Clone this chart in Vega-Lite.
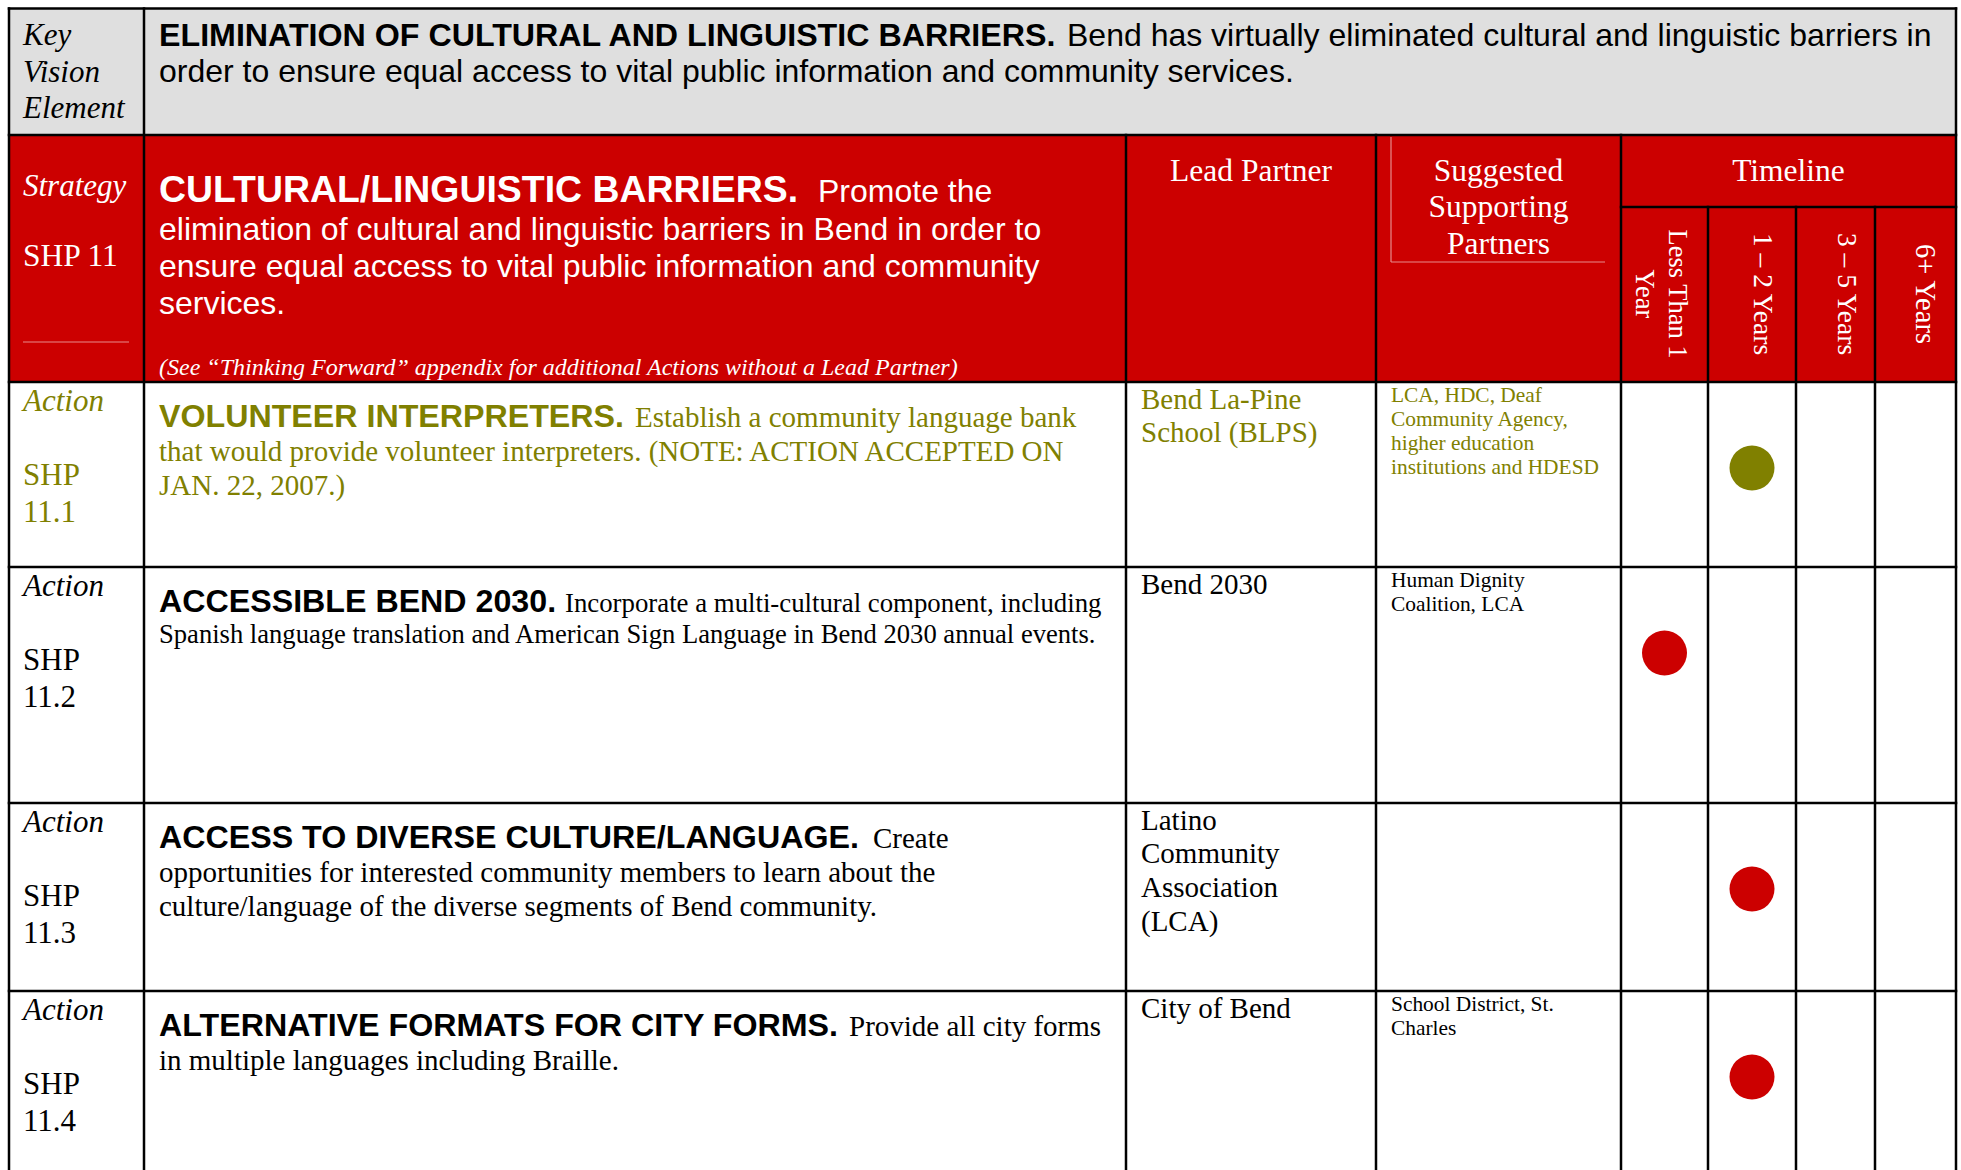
{
  "$schema": "https://vega.github.io/schema/vega-lite/v6.json",
  "width": 1961,
  "height": 1170,
  "autosize": "none",
  "padding": 0,
  "background": "white",
  "config": {"view": {"stroke": null}},
  "datasets": {
    "cells": [
      {"c": 0, "c2": 8, "r": 0, "r2": 1, "tone": "grey"},
      {"c": 0, "c2": 8, "r": 1, "r2": 3, "tone": "red"}
    ],
    "lines": [
      {"c": 0, "c2": 8, "r": 0, "r2": 0, "tone": "black"},
      {"c": 0, "c2": 8, "r": 1, "r2": 1, "tone": "black"},
      {"c": 4, "c2": 8, "r": 2, "r2": 2, "tone": "black"},
      {"c": 0, "c2": 8, "r": 3, "r2": 3, "tone": "black"},
      {"c": 0, "c2": 8, "r": 4, "r2": 4, "tone": "black"},
      {"c": 0, "c2": 8, "r": 5, "r2": 5, "tone": "black"},
      {"c": 0, "c2": 8, "r": 6, "r2": 6, "tone": "black"},
      {"c": 0, "c2": 0, "r": 0, "r2": 7, "tone": "black"},
      {"c": 1, "c2": 1, "r": 0, "r2": 7, "tone": "black"},
      {"c": 2, "c2": 2, "r": 1, "r2": 7, "tone": "black"},
      {"c": 3, "c2": 3, "r": 1, "r2": 7, "tone": "black"},
      {"c": 4, "c2": 4, "r": 1, "r2": 7, "tone": "black"},
      {"c": 5, "c2": 5, "r": 2, "r2": 7, "tone": "black"},
      {"c": 6, "c2": 6, "r": 2, "r2": 7, "tone": "black"},
      {"c": 7, "c2": 7, "r": 2, "r2": 7, "tone": "black"},
      {"c": 8, "c2": 8, "r": 0, "r2": 7, "tone": "black"}
    ],
    "thin": [
      {"k": "a", "c": 0, "c2": 1, "r": 1, "r2": 1, "tone": "pink"},
      {"k": "b", "c": 3, "c2": 3, "r": 1, "r2": 1, "tone": "pink"},
      {"k": "c", "c": 3, "c2": 4, "r": 1, "r2": 1, "tone": "pink"}
    ],
    "dots": [
      {"c": 5.5, "r": 3, "tone": "olive"},
      {"c": 4.5, "r": 4, "tone": "red"},
      {"c": 5.5, "r": 5, "tone": "red"},
      {"c": 5.5, "r": 6, "tone": "red"}
    ],
    "texts": [
      {"k": "kve", "c": 0, "r": 0, "t": "Key\nVision\nElement", "tone": "black"},
      {"k": "strat", "c": 0, "r": 1, "t": "Strategy", "tone": "white"},
      {"k": "shp11", "c": 0, "r": 1, "t": "SHP 11", "tone": "white"},
      {"k": "act", "c": 0, "r": 3, "t": "Action", "tone": "olive"},
      {"k": "act", "c": 0, "r": 4, "t": "Action", "tone": "black"},
      {"k": "act", "c": 0, "r": 5, "t": "Action", "tone": "black"},
      {"k": "act", "c": 0, "r": 6, "t": "Action", "tone": "black"},
      {"k": "shp", "c": 0, "r": 3, "t": "SHP\n11.1", "tone": "olive"},
      {"k": "shp", "c": 0, "r": 4, "t": "SHP\n11.2", "tone": "black"},
      {"k": "shp", "c": 0, "r": 5, "t": "SHP\n11.3", "tone": "black"},
      {"k": "shp", "c": 0, "r": 6, "t": "SHP\n11.4", "tone": "black"},
      {"k": "vb", "c": 1, "r": 0, "t": "ELIMINATION OF CULTURAL AND LINGUISTIC BARRIERS.", "tone": "black"},
      {"k": "vc", "c": 1, "r": 0, "t": "Bend has virtually eliminated cultural and linguistic barriers in", "tone": "black"},
      {"k": "v2", "c": 1, "r": 0, "t": "order to ensure equal access to vital public information and community services.", "tone": "black"},
      {"k": "sb", "c": 1, "r": 1, "t": "CULTURAL/LINGUISTIC BARRIERS.", "tone": "white"},
      {"k": "sc", "c": 1, "r": 1, "t": "Promote the", "tone": "white"},
      {"k": "s2", "c": 1, "r": 1, "t": "elimination of cultural and linguistic barriers in Bend in order to\nensure equal access to vital public information and community\nservices.", "tone": "white"},
      {"k": "sn", "c": 1, "r": 1, "t": "(See “Thinking Forward” appendix for additional Actions without a Lead Partner)", "tone": "white"},
      {"k": "hc", "c": 2.5, "r": 1, "t": "Lead Partner", "tone": "white"},
      {"k": "hc", "c": 3.5, "r": 1, "t": "Suggested\nSupporting\nPartners", "tone": "white"},
      {"k": "ht", "c": 6, "r": 1, "t": "Timeline", "tone": "white"},
      {"k": "rot1", "c": 5.5, "r": 2, "t": "1 – 2 Years", "tone": "white"},
      {"k": "rot1", "c": 6.5, "r": 2, "t": "3 – 5 Years", "tone": "white"},
      {"k": "rot6", "c": 7.5, "r": 2, "t": "6+ Years", "tone": "white"},
      {"k": "rot2", "c": 4.5, "r": 2, "t": "Less Than  1\nYear", "tone": "white"},
      {"k": "lead", "c": 2, "r": 3, "t": "Bend La-Pine\nSchool (BLPS)", "tone": "olive"},
      {"k": "lead", "c": 2, "r": 4, "t": "Bend 2030", "tone": "black"},
      {"k": "lead", "c": 2, "r": 5, "t": "Latino\nCommunity\nAssociation\n(LCA)", "tone": "black"},
      {"k": "lead", "c": 2, "r": 6, "t": "City of Bend", "tone": "black"},
      {"k": "sug", "c": 3, "r": 3, "t": "LCA, HDC, Deaf\nCommunity Agency,\nhigher education\ninstitutions and HDESD", "tone": "olive"},
      {"k": "sug", "c": 3, "r": 4, "t": "Human Dignity\nCoalition, LCA", "tone": "black"},
      {"k": "sug", "c": 3, "r": 6, "t": "School District, St.\nCharles", "tone": "black"},
      {"k": "tb", "c": 1, "r": 3, "t": "VOLUNTEER INTERPRETERS.", "tone": "olive"},
      {"k": "tb", "c": 1, "r": 4, "t": "ACCESSIBLE BEND 2030.", "tone": "black"},
      {"k": "tb", "c": 1, "r": 5, "t": "ACCESS TO DIVERSE CULTURE/LANGUAGE.", "tone": "black"},
      {"k": "tb", "c": 1, "r": 6, "t": "ALTERNATIVE FORMATS FOR CITY FORMS.", "tone": "black"},
      {"k": "tc3", "c": 1, "r": 3, "t": "Establish a community language bank", "tone": "olive"},
      {"k": "tc4", "c": 1, "r": 4, "t": "Incorporate a multi-cultural component, including", "tone": "black"},
      {"k": "tc5", "c": 1, "r": 5, "t": "Create", "tone": "black"},
      {"k": "tc6", "c": 1, "r": 6, "t": "Provide all city forms", "tone": "black"},
      {"k": "tl", "c": 1, "r": 3, "t": "that would provide volunteer interpreters. (NOTE: ACTION ACCEPTED ON\nJAN. 22, 2007.)", "tone": "olive"},
      {"k": "tl", "c": 1, "r": 5, "t": "opportunities for interested community members to learn about the\nculture/language of the diverse segments of Bend community.", "tone": "black"},
      {"k": "tl", "c": 1, "r": 6, "t": "in multiple languages including Braille.", "tone": "black"},
      {"k": "tl4", "c": 1, "r": 4, "t": "Spanish language translation and American Sign Language in Bend 2030 annual events.", "tone": "black"}
    ]
  },
  "encoding": {
    "x": {"field": "c", "type": "quantitative", "axis": null,
          "scale": {"domain": [0, 1, 2, 3, 4, 5, 6, 7, 8], "range": [9, 144, 1126, 1376, 1621, 1708, 1796, 1875, 1956], "nice": false, "zero": false}},
    "y": {"field": "r", "type": "quantitative", "axis": null,
          "scale": {"domain": [0, 1, 2, 3, 4, 5, 6, 7], "range": [8.5, 135, 207, 382, 567, 803, 991, 1175], "nice": false, "zero": false}},
    "color": {"field": "tone", "type": "nominal", "legend": null,
              "scale": {"domain": ["black", "white", "olive", "red", "grey", "pink"], "range": ["#000000", "#ffffff", "#808000", "#cc0000", "#dfdfdf", "#e58b8b"]}}
  },
  "layer": [
    {"data": {"name": "cells"}, "mark": {"type": "rect"},
     "encoding": {"x2": {"field": "c2"}, "y2": {"field": "r2"}}},
    {"data": {"name": "lines"}, "mark": {"type": "rule", "strokeWidth": 2.5, "strokeCap": "square"},
     "encoding": {"x2": {"field": "c2"}, "y2": {"field": "r2"}}},
    {"data": {"name": "thin"}, "transform": [{"filter": "datum.k === 'a'"}],
     "mark": {"type": "rule", "strokeWidth": 1.2, "xOffset": 14, "x2Offset": -15, "yOffset": 207, "y2Offset": 207},
     "encoding": {"x2": {"field": "c2"}, "y2": {"field": "r2"}}},
    {"data": {"name": "thin"}, "transform": [{"filter": "datum.k === 'b'"}],
     "mark": {"type": "rule", "strokeWidth": 1.2, "xOffset": 15, "x2Offset": 15, "yOffset": 2, "y2Offset": 127},
     "encoding": {"x2": {"field": "c2"}, "y2": {"field": "r2"}}},
    {"data": {"name": "thin"}, "transform": [{"filter": "datum.k === 'c'"}],
     "mark": {"type": "rule", "strokeWidth": 1.2, "xOffset": 15, "x2Offset": -16, "yOffset": 127, "y2Offset": 127},
     "encoding": {"x2": {"field": "c2"}, "y2": {"field": "r2"}}},
    {"data": {"name": "dots"}, "mark": {"type": "circle", "size": 2025, "opacity": 1, "yOffset": 86}},
    {"data": {"name": "texts"}, "transform": [{"filter": "datum.k === 'kve'"}],
     "mark": {"type": "text", "font": "Liberation Serif", "fontStyle": "italic", "fontSize": 31, "align": "left", "baseline": "alphabetic", "dx": 14, "dy": 36.5, "lineBreak": "\n", "lineHeight": 36.5},
     "encoding": {"text": {"field": "t"}}},
    {"data": {"name": "texts"}, "transform": [{"filter": "datum.k === 'strat'"}],
     "mark": {"type": "text", "font": "Liberation Serif", "fontStyle": "italic", "fontSize": 31, "align": "left", "baseline": "alphabetic", "dx": 14, "dy": 61},
     "encoding": {"text": {"field": "t"}}},
    {"data": {"name": "texts"}, "transform": [{"filter": "datum.k === 'shp11'"}],
     "mark": {"type": "text", "font": "Liberation Serif", "fontSize": 31.5, "align": "left", "baseline": "alphabetic", "dx": 14, "dy": 130.5},
     "encoding": {"text": {"field": "t"}}},
    {"data": {"name": "texts"}, "transform": [{"filter": "datum.k === 'act'"}],
     "mark": {"type": "text", "font": "Liberation Serif", "fontStyle": "italic", "fontSize": 31, "align": "left", "baseline": "alphabetic", "dx": 14, "dy": 29},
     "encoding": {"text": {"field": "t"}}},
    {"data": {"name": "texts"}, "transform": [{"filter": "datum.k === 'shp'"}],
     "mark": {"type": "text", "font": "Liberation Serif", "fontSize": 31, "align": "left", "baseline": "alphabetic", "dx": 14, "dy": 102.5, "lineBreak": "\n", "lineHeight": 37.5},
     "encoding": {"text": {"field": "t"}}},
    {"data": {"name": "texts"}, "transform": [{"filter": "datum.k === 'vb'"}],
     "mark": {"type": "text", "font": "Liberation Sans", "fontWeight": "bold", "fontSize": 32.2, "align": "left", "baseline": "alphabetic", "dx": 15, "dy": 37.5},
     "encoding": {"text": {"field": "t"}}},
    {"data": {"name": "texts"}, "transform": [{"filter": "datum.k === 'vc'"}],
     "mark": {"type": "text", "font": "Liberation Sans", "fontSize": 32, "align": "left", "baseline": "alphabetic", "dx": 923, "dy": 37.5},
     "encoding": {"text": {"field": "t"}}},
    {"data": {"name": "texts"}, "transform": [{"filter": "datum.k === 'v2'"}],
     "mark": {"type": "text", "font": "Liberation Sans", "fontSize": 32, "align": "left", "baseline": "alphabetic", "dx": 15, "dy": 73},
     "encoding": {"text": {"field": "t"}}},
    {"data": {"name": "texts"}, "transform": [{"filter": "datum.k === 'sb'"}],
     "mark": {"type": "text", "font": "Liberation Sans", "fontWeight": "bold", "fontSize": 37.4, "align": "left", "baseline": "alphabetic", "dx": 15, "dy": 67},
     "encoding": {"text": {"field": "t"}}},
    {"data": {"name": "texts"}, "transform": [{"filter": "datum.k === 'sc'"}],
     "mark": {"type": "text", "font": "Liberation Sans", "fontSize": 32, "align": "left", "baseline": "alphabetic", "dx": 674, "dy": 67},
     "encoding": {"text": {"field": "t"}}},
    {"data": {"name": "texts"}, "transform": [{"filter": "datum.k === 's2'"}],
     "mark": {"type": "text", "font": "Liberation Sans", "fontSize": 32, "align": "left", "baseline": "alphabetic", "dx": 15, "dy": 105, "lineBreak": "\n", "lineHeight": 37},
     "encoding": {"text": {"field": "t"}}},
    {"data": {"name": "texts"}, "transform": [{"filter": "datum.k === 'sn'"}],
     "mark": {"type": "text", "font": "Liberation Serif", "fontStyle": "italic", "fontSize": 24, "align": "left", "baseline": "alphabetic", "dx": 15, "dy": 240},
     "encoding": {"text": {"field": "t"}}},
    {"data": {"name": "texts"}, "transform": [{"filter": "datum.k === 'hc'"}],
     "mark": {"type": "text", "font": "Liberation Serif", "fontSize": 31.5, "align": "center", "baseline": "alphabetic", "dy": 45.7, "lineBreak": "\n", "lineHeight": 36.5},
     "encoding": {"text": {"field": "t"}}},
    {"data": {"name": "texts"}, "transform": [{"filter": "datum.k === 'ht'"}],
     "mark": {"type": "text", "font": "Liberation Serif", "fontSize": 31.5, "align": "center", "baseline": "alphabetic", "dx": -7.5, "dy": 45.7},
     "encoding": {"text": {"field": "t"}}},
    {"data": {"name": "texts"}, "transform": [{"filter": "datum.k === 'rot1'"}],
     "mark": {"type": "text", "font": "Liberation Serif", "fontSize": 27.5, "angle": 90, "align": "center", "baseline": "middle", "xOffset": 10, "yOffset": 87},
     "encoding": {"text": {"field": "t"}}},
    {"data": {"name": "texts"}, "transform": [{"filter": "datum.k === 'rot6'"}],
     "mark": {"type": "text", "font": "Liberation Serif", "fontSize": 28.5, "angle": 90, "align": "center", "baseline": "middle", "xOffset": 9, "yOffset": 87},
     "encoding": {"text": {"field": "t"}}},
    {"data": {"name": "texts"}, "transform": [{"filter": "datum.k === 'rot2'"}],
     "mark": {"type": "text", "font": "Liberation Serif", "fontSize": 26.5, "angle": 90, "align": "center", "baseline": "middle", "xOffset": 12.5, "yOffset": 87, "lineBreak": "\n", "lineHeight": 33},
     "encoding": {"text": {"field": "t"}}},
    {"data": {"name": "texts"}, "transform": [{"filter": "datum.k === 'lead'"}],
     "mark": {"type": "text", "font": "Liberation Serif", "fontSize": 29, "align": "left", "baseline": "alphabetic", "dx": 15, "dy": 26.5, "lineBreak": "\n", "lineHeight": 33.8},
     "encoding": {"text": {"field": "t"}}},
    {"data": {"name": "texts"}, "transform": [{"filter": "datum.k === 'sug'"}],
     "mark": {"type": "text", "font": "Liberation Serif", "fontSize": 21.4, "align": "left", "baseline": "alphabetic", "dx": 15, "dy": 20, "lineBreak": "\n", "lineHeight": 24},
     "encoding": {"text": {"field": "t"}}},
    {"data": {"name": "texts"}, "transform": [{"filter": "datum.k === 'tb'"}],
     "mark": {"type": "text", "font": "Liberation Sans", "fontWeight": "bold", "fontSize": 32.2, "align": "left", "baseline": "alphabetic", "dx": 15, "dy": 45},
     "encoding": {"text": {"field": "t"}}},
    {"data": {"name": "texts"}, "transform": [{"filter": "datum.k === 'tc3'"}],
     "mark": {"type": "text", "font": "Liberation Serif", "fontSize": 29, "align": "left", "baseline": "alphabetic", "dx": 491, "dy": 45},
     "encoding": {"text": {"field": "t"}}},
    {"data": {"name": "texts"}, "transform": [{"filter": "datum.k === 'tc4'"}],
     "mark": {"type": "text", "font": "Liberation Serif", "fontSize": 26.8, "align": "left", "baseline": "alphabetic", "dx": 421, "dy": 45},
     "encoding": {"text": {"field": "t"}}},
    {"data": {"name": "texts"}, "transform": [{"filter": "datum.k === 'tc5'"}],
     "mark": {"type": "text", "font": "Liberation Serif", "fontSize": 29, "align": "left", "baseline": "alphabetic", "dx": 729, "dy": 45},
     "encoding": {"text": {"field": "t"}}},
    {"data": {"name": "texts"}, "transform": [{"filter": "datum.k === 'tc6'"}],
     "mark": {"type": "text", "font": "Liberation Serif", "fontSize": 29, "align": "left", "baseline": "alphabetic", "dx": 705, "dy": 45},
     "encoding": {"text": {"field": "t"}}},
    {"data": {"name": "texts"}, "transform": [{"filter": "datum.k === 'tl'"}],
     "mark": {"type": "text", "font": "Liberation Serif", "fontSize": 29, "align": "left", "baseline": "alphabetic", "dx": 15, "dy": 79, "lineBreak": "\n", "lineHeight": 33.5},
     "encoding": {"text": {"field": "t"}}},
    {"data": {"name": "texts"}, "transform": [{"filter": "datum.k === 'tl4'"}],
     "mark": {"type": "text", "font": "Liberation Serif", "fontSize": 26.6, "align": "left", "baseline": "alphabetic", "dx": 15, "dy": 76},
     "encoding": {"text": {"field": "t"}}}
  ]
}
